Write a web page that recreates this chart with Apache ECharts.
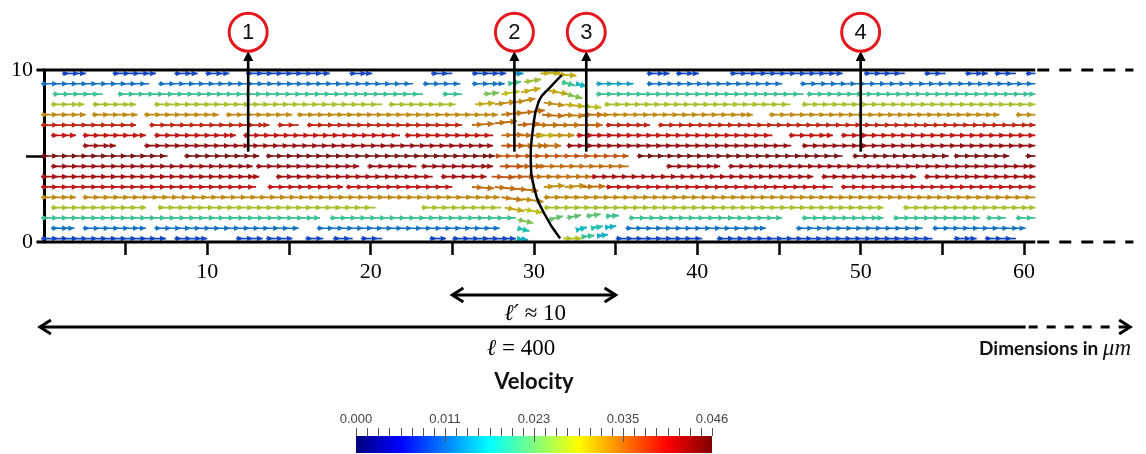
<!DOCTYPE html>
<html><head><meta charset="utf-8">
<script src="https://cdn.jsdelivr.net/npm/echarts@6/dist/echarts.min.js"></script>
<style>html,body{margin:0;padding:0;background:#fff;}#chart{width:1146px;height:454px;}</style>
</head><body><div id="chart"></div>
<script>
// ================= DATA =================
// rows of the velocity field (top to bottom), y in micrometres
const rowY = [9.8, 9.2, 8.6, 8.0, 7.4, 6.8, 6.2, 5.6, 5.0, 4.4, 3.8, 3.2, 2.6, 2.0, 1.4, 0.8, 0.2];
const rowSpeed = [0.009, 0.012, 0.020, 0.027, 0.0325, 0.039, 0.040, 0.043, 0.045, 0.043, 0.042, 0.040, 0.0325, 0.027, 0.020, 0.012, 0.009];
// streaks of arrows per row: [xStart, xEnd, optional speed]
const rowSegments = [
  [[1.1,2.57],[4.2,6.86],[7.98,9.41],[9.88,11.35],[12.37,17.5],[18.7,20.1],[23.7,25.0],[26.2,28.3],[36.9,38.3],[38.7,40.1],[42.0,48.9],[50.2,52.7],[53.9,55.2],[56.4,57.8],[58.2,59.5],[60.1,60.7]],
  [[-0.18,6.45],[7.0,22.6],[23.2,25.5],[26.2,28.2],[33.8,36.1,0.015],[36.9,45.2],[46.3,60.7]],
  [[0.53,3.59],[4.51,23.2],[24.4,25.6],[33.8,46.5],[46.7,60.7]],
  [[0.43,2.47],[2.98,5.63],[6.75,20.7],[21.1,25.2],[34.3,45.7],[46.4,60.7]],
  [[-0.18,2.57],[2.94,5.73],[6.14,10.7],[11.14,15.2],[15.5,27.8],[34.2,43.4],[44.4,58.5],[59.5,60.7]],
  [[-0.18,5.63],[6.45,13.8],[14.3,15.6],[16.1,25.6],[34.4,37.1],[37.6,60.7]],
  [[0.43,1.96],[2.37,6.24],[6.75,11.75],[12.2,21.8],[22.1,27.5],[32.6,44.6],[45.6,48.3],[48.8,60.7]],
  [[2.37,4.41],[6.14,27.5],[32.0,45.75],[46.4,60.7]],
  [[-0.18,7.57],[8.59,13.18],[13.59,27.6],[27.6,35.8,0.036],[36.3,48.9],[49.5,55.4],[55.7,59.1],[60.1,60.7]],
  [[0.43,12.78],[12.98,19.3],[19.8,22.8],[23.1,27.5],[30.3,35.8,0.034],[38.1,41.4],[41.9,60.7]],
  [[-0.18,13.18],[14.2,23.8],[24.3,27.1],[30.1,33.5,0.034],[33.5,47.1],[47.6,53.4],[53.9,60.7]],
  [[-0.18,12.98],[13.69,18.3],[18.5,25.0],[34.4,48.3],[48.8,60.7]],
  [[-0.18,1.96],[2.37,27.9],[30.6,60.7]],
  [[0.43,6.24],[6.96,20.3],[23.1,28.0],[30.6,51.4],[52.6,60.7]],
  [[-0.18,16.9],[17.5,28.9],[35.8,45.2],[46.4,51.4],[52.0,57.3],[57.7,58.9],[59.5,60.7]],
  [[0.43,1.86],[2.37,6.24],[6.75,15.6],[16.7,27.9],[35.6,44.2],[46.05,53.8],[54.4,60.1]],
  [[-0.18,7.47],[7.98,10.0],[11.75,13.39],[13.59,15.2],[16.0,17.1],[17.7,18.9],[19.4,20.7],[23.6,24.6],[25.0,28.9],[35.0,40.3],[41.2,54.4],[55.7,57.1],[57.6,59.5]]
];
// disturbed arrows around the interface: [x, y, u, v]
const interfaceArrows = [
  [28.8,9.8,0.014,0.0],[30.4,9.8,0.030,0.001],[31.4,9.75,0.030,-0.002],
  [28.4,9.2,0.020,0.003],[29.4,9.3,0.026,0.004],[31.7,9.3,0.020,-0.005],[32.6,9.2,0.016,-0.004],
  [26.9,8.6,0.024,0.002],[28.0,8.6,0.028,0.004],[29.2,8.7,0.030,0.006],[30.9,8.8,0.030,-0.005],[32.0,8.6,0.024,-0.006],
  [26.4,8.0,0.030,0.002],[27.6,8.0,0.032,0.004],[28.8,8.1,0.032,0.006],[30.6,8.1,0.032,-0.004],[31.9,8.0,0.030,-0.003],[33.0,7.9,0.028,-0.002],
  [28.0,7.4,0.034,0.003],[29.3,7.5,0.034,0.004],[30.5,7.4,0.034,-0.002],[31.8,7.4,0.033,-0.002],[32.9,7.4,0.034,0.0],
  [26.2,6.8,0.034,0.002],[27.6,6.9,0.034,0.003],[29.0,6.8,0.035,0.002],[30.2,6.8,0.034,0.0],[31.5,6.8,0.034,0.0],[32.8,6.8,0.035,0.0],
  [28.0,6.2,0.034,0.001],[29.2,6.2,0.034,0.0],[30.1,6.2,0.030,0.0],[31.2,6.2,0.032,0.0],
  [28.0,5.6,0.036,0.0],[29.3,5.6,0.034,0.0],[30.3,5.6,0.034,0.0],
  [27.9,4.4,0.036,0.0],[29.1,4.4,0.035,0.0],
  [27.4,3.8,0.036,-0.001],[28.7,3.8,0.035,0.0],
  [26.2,3.2,0.034,-0.002],[27.6,3.2,0.034,-0.003],[28.9,3.1,0.034,-0.003],[30.6,3.2,0.032,0.002],[31.9,3.2,0.032,0.002],[33.0,3.2,0.034,0.001],
  [28.0,2.6,0.033,-0.004],[29.3,2.5,0.032,-0.004],
  [28.2,2.0,0.030,-0.005],[29.4,1.9,0.028,-0.005],
  [29.0,1.3,0.024,-0.005],[30.9,1.3,0.022,0.005],[32.0,1.4,0.022,0.004],[33.2,1.5,0.022,0.003],[34.4,1.5,0.020,0.001],
  [29.0,0.8,0.018,-0.004],[32.6,0.7,0.016,0.004],[33.5,0.8,0.018,0.003],[34.4,0.85,0.016,0.002],
  [29.0,0.2,0.016,-0.002],[31.8,0.2,0.028,0.0],[32.9,0.3,0.020,0.002],[33.9,0.35,0.016,0.002]
];
// meniscus / interface line
const interfaceCurve = [[31.7,9.7],[31.0,9.0],[30.3,8.2],[29.9,6.3],[29.8,4.8],[30.0,3.2],[30.6,1.7],[31.6,0.2]];

const xTickValues = [5,10,15,20,25,30,35,40,45,50,55,60];
const xLabelValues = [10,20,30,40,50,60];
const yTickValues = [5];
const yLabelValues = [0,10];

const probeX = [12.5, 28.8, 33.2, 50.0];
const probeLabels = ['1','2','3','4'];
const probeFrom = 5.25, probeTo = 11.1, probeCircleY = 12.2;

const channelEnds = [-0.37, 60.69, 66.7];   // wall start, solid end, dashed end

const dimFrom = [25.0, -0.25];
const dimTo = [35.0, 60.1];
const dimDashTo = [35.0, 66.5];
const dimY = [-3.08, -4.94];
const dimLabelX = [30.07, 29.2];
const dimLabelY = [-4.19, -6.22];
const dimSymbols = ['ℓ′', 'ℓ'];
const dimRelations = [' ≈ 10', ' = 400'];

const velocityMax = 0.046;
const colorbarLabelValues = [0, 0.0115, 0.023, 0.0345, 0.046];
const colorbarLabels = ['0.000','0.011','0.023','0.035','0.046'];
const colorbarMinorCount = 32;
const jetColors = ['#00007f','#0000ff','#007fff','#00ffff','#7fff7f','#ffff00','#ff7f00','#ff0000','#7f0000'];

const arrowScale = 40; // data units per velocity unit

// ================= BUILD =================
const flowData = [];
rowSegments.forEach((segs, r) => segs.forEach(s => flowData.push([s.length > 2 ? s[2] : rowSpeed[r], rowY[r], s[0], s[1]])));
const ifaceData = interfaceArrows.map(a => [Math.hypot(a[2], a[3]), a[0], a[1], a[2], a[3]]);
const cbTicks = [];
for (let i = 0; i <= colorbarMinorCount; i++) cbTicks.push(velocityMax * i / colorbarMinorCount);

// shaded glyph colour (the rendered arrows look darker / less saturated than the bar)
function shade(color) {
  const c = echarts.color.parse(color);
  const k = 0.8 * 0.85, g = 128 * 0.15;
  return 'rgb(' + [0, 1, 2].map(i => Math.round(c[i] * k + g)).join(',') + ')';
}
function head(p, ang, color, L, W) {
  const c = Math.cos(ang), s = Math.sin(ang);
  const bx = p[0] - L * c, by = p[1] - L * s;
  return {type: 'polygon', shape: {points: [[p[0], p[1]], [bx - W * s, by + W * c], [bx + W * s, by - W * c]]}, style: {fill: color}};
}
function chevron(p, dir, color) {
  return {type: 'polyline', shape: {points: [[p[0] - dir * 11, p[1] - 7], [p[0], p[1]], [p[0] - dir * 11, p[1] + 7]]},
    style: {stroke: color, lineWidth: 3, fill: null, lineJoin: 'miter'}};
}

function renderFlow(params, api) {
  const y = api.value(1), x0 = api.value(2), x1 = api.value(3);
  const color = shade(api.visual('color'));
  const p0 = api.coord([x0, y]), p1 = api.coord([x1, y]);
  const children = [{type: 'line', shape: {x1: p0[0], y1: p0[1], x2: p1[0], y2: p1[1]}, style: {stroke: color, lineWidth: 1.7}}];
  const gap = 0.6, heads = [];
  for (let h = x0 + 0.45; h <= x1 + 0.05; h += gap) heads.push(h);
  if (!heads.length || x1 - heads[heads.length - 1] > 0.3) heads.push(x1);
  heads.forEach(h => children.push(head(api.coord([h, y]), 0, color, 6, 2.8)));
  return {type: 'group', children};
}
function renderIface(params, api) {
  const x = api.value(1), y = api.value(2), u = api.value(3), v = api.value(4);
  const color = shade(api.visual('color'));
  const p0 = api.coord([x, y]), p1 = api.coord([x + u * arrowScale, y + v * arrowScale]);
  const ang = Math.atan2(p1[1] - p0[1], p1[0] - p0[0]);
  const mid = [(p0[0] + p1[0]) / 2, (p0[1] + p1[1]) / 2];
  return {type: 'group', children: [
    {type: 'line', shape: {x1: p0[0], y1: p0[1], x2: p1[0], y2: p1[1]}, style: {stroke: color, lineWidth: 1.9}},
    head(mid, ang, color, 6, 3), head(p1, ang, color, 6.5, 3.2)
  ]};
}
function renderFrame(params, api) {
  const ch = [];
  [0, 10].forEach(yv => {
    const a = api.coord([channelEnds[0], yv]), b = api.coord([channelEnds[1], yv]), c = api.coord([channelEnds[2], yv]);
    ch.push({type: 'line', shape: {x1: a[0] - 1.5, y1: a[1], x2: b[0], y2: b[1]}, style: {stroke: '#000', lineWidth: 3}});
    ch.push({type: 'line', shape: {x1: b[0] + 2, y1: b[1], x2: c[0], y2: c[1]}, style: {stroke: '#000', lineWidth: 3, lineDash: [12, 10]}});
  });
  const pts = interfaceCurve.map(p => api.coord(p));
  ch.push({type: 'polyline', shape: {points: pts, smooth: 0.5}, style: {stroke: '#000', lineWidth: 2.5, fill: null}});
  return {type: 'group', children: ch};
}
function renderProbe(params, api) {
  const x = api.value(0), i = api.value(1);
  const a = api.coord([x, probeFrom]), b = api.coord([x, probeTo]), c = api.coord([x, probeCircleY]);
  return {type: 'group', children: [
    {type: 'line', shape: {x1: a[0], y1: a[1], x2: b[0], y2: b[1] + 8}, style: {stroke: '#000', lineWidth: 2.6}},
    head(b, -Math.PI / 2, '#000', 10, 5),
    {type: 'circle', shape: {cx: c[0], cy: c[1], r: 19}, style: {stroke: '#e3171d', lineWidth: 3, fill: '#fff'}},
    {type: 'text', style: {text: probeLabels[i], x: c[0], y: c[1] + 1, align: 'center', verticalAlign: 'middle',
      textAlign: 'center', textVerticalAlign: 'middle', font: '22px "Liberation Sans"', fill: '#111'}}
  ]};
}
function renderDim(params, api) {
  const i = api.value(0);
  const y = dimY[i];
  const a = api.coord([dimFrom[i], y]), b = api.coord([dimTo[i], y]), c = api.coord([dimDashTo[i], y]);
  const t = api.coord([dimLabelX[i], dimLabelY[i]]);
  const ch = [
    {type: 'line', shape: {x1: a[0] + 1, y1: a[1], x2: b[0], y2: b[1]}, style: {stroke: '#000', lineWidth: 3}},
    chevron(a, -1, '#000')
  ];
  if (dimDashTo[i] > dimTo[i]) {
    ch.push({type: 'line', shape: {x1: b[0] + 3, y1: b[1], x2: c[0] - 2, y2: c[1]}, style: {stroke: '#000', lineWidth: 3, lineDash: [9, 9]}});
  }
  ch.push(chevron(c, 1, '#000'));
  ch.push({type: 'text', style: {text: '{s|' + dimSymbols[i] + '}{r|' + dimRelations[i] + '}', x: t[0], y: t[1],
    align: 'center', verticalAlign: 'middle', textAlign: 'center', textVerticalAlign: 'middle',
    rich: {s: {font: 'italic 23px "DejaVu Serif"', fill: '#000'}, r: {font: '23px "Liberation Serif", "DejaVu Serif"', fill: '#000'}}}});
  return {type: 'group', children: ch};
}
function renderColorbar(params, api) {
  const a = api.coord([0, 0]), b = api.coord([velocityMax, 1]);
  const stops = jetColors.map((c, k) => ({offset: k / (jetColors.length - 1), color: c}));
  const ch = [{type: 'rect', shape: {x: a[0], y: b[1], width: b[0] - a[0], height: a[1] - b[1]},
    style: {fill: {type: 'linear', x: 0, y: 0, x2: 1, y2: 0, colorStops: stops}}}];
  cbTicks.forEach((v, k) => {
    const p = api.coord([v, 1]);
    const px = Math.round(p[0]) + 0.5;
    const major = (k % 8 === 0) && k > 0 && k < colorbarMinorCount;
    ch.push({type: 'line', shape: {x1: px, y1: p[1] - 8, x2: px, y2: p[1] + (major ? 6 : 0)}, style: {stroke: '#555', lineWidth: 1}, z2: 10});
  });
  return {type: 'group', children: ch};
}

const chart = echarts.init(document.getElementById('chart'));
chart.setOption({
  animation: false,
  backgroundColor: '#fff',
  grid: [
    {left: 44, right: 122, top: 70, bottom: 212},
    {left: 356, width: 356, top: 436, height: 17}
  ],
  xAxis: [
    {type: 'value', gridIndex: 0, min: 0, max: 60, axisLine: {show: false}, splitLine: {show: false},
     axisTick: {show: true, customValues: xTickValues, length: 13, lineStyle: {color: '#000', width: 2.5}},
     axisLabel: {customValues: xLabelValues, margin: 19, color: '#000', fontSize: 22, fontFamily: '"Liberation Serif", serif'}},
    {type: 'value', gridIndex: 1, min: 0, max: velocityMax, position: 'top', axisLine: {show: false}, splitLine: {show: false},
     axisTick: {show: false},
     axisLabel: {customValues: colorbarLabelValues, margin: 10, color: '#444', fontSize: 13, fontFamily: '"Liberation Sans", Arial',
       formatter: (v) => colorbarLabels[colorbarLabelValues.findIndex(c => Math.abs(c - v) < 1e-9)]}}
  ],
  yAxis: [
    {type: 'value', gridIndex: 0, min: 0, max: 10, offset: 6, splitLine: {show: false},
     axisLine: {show: true, lineStyle: {color: '#000', width: 3}},
     axisTick: {show: true, customValues: yTickValues, length: 18, lineStyle: {color: '#000', width: 2.5}},
     axisLabel: {customValues: yLabelValues, margin: 5, color: '#000', fontSize: 22, fontFamily: '"Liberation Serif", serif'}},
    {type: 'value', gridIndex: 1, min: 0, max: 1, show: false}
  ],
  visualMap: {type: 'continuous', show: false, min: 0, max: velocityMax, dimension: 0, seriesIndex: [0, 1], inRange: {color: jetColors}},
  graphic: [
    {type: 'text', x: 534, y: 382, style: {text: 'Velocity', font: 'bold 22px Lato', fill: '#111', align: 'center', verticalAlign: 'middle', textAlign: 'center', textVerticalAlign: 'middle'}},
    {type: 'text', x: 1131, y: 349, style: {text: '{a|Dimensions in }{b|μm}', align: 'right', verticalAlign: 'middle', textAlign: 'right', textVerticalAlign: 'middle',
      rich: {a: {font: 'bold 19px Lato', fill: '#111'}, b: {font: 'italic 23px "Liberation Serif"', fill: '#111'}}}}
  ],
  series: [
    {type: 'custom', name: 'flow', xAxisIndex: 0, yAxisIndex: 0, renderItem: renderFlow, data: flowData, encode: {x: [2, 3], y: 1}, clip: false, z: 2},
    {type: 'custom', name: 'interface', xAxisIndex: 0, yAxisIndex: 0, renderItem: renderIface, data: ifaceData, encode: {x: 1, y: 2}, clip: false, z: 2},
    {type: 'custom', name: 'frame', xAxisIndex: 0, yAxisIndex: 0, renderItem: renderFrame, data: [[0, 0]], clip: false, z: 5},
    {type: 'custom', name: 'probes', xAxisIndex: 0, yAxisIndex: 0, renderItem: renderProbe, data: probeX.map((x, i) => [x, i]), clip: false, z: 6},
    {type: 'custom', name: 'dims', xAxisIndex: 0, yAxisIndex: 0, renderItem: renderDim, data: [[0, 0], [1, 0]], encode: {x: 0, y: 1}, clip: false, z: 6},
    {type: 'custom', name: 'colorbar', xAxisIndex: 1, yAxisIndex: 1, renderItem: renderColorbar, data: [[0, 0]], clip: false, z: 2}
  ]
});
</script></body></html>
